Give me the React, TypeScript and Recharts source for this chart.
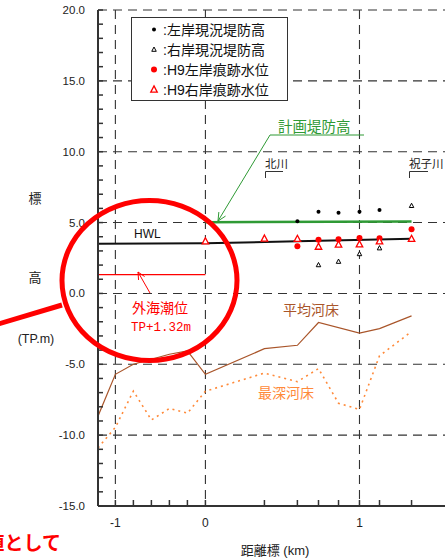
import React from 'react';
import { LineChart, Line, XAxis, YAxis, CartesianGrid, ReferenceLine } from 'recharts';

// distance marks left of 0 are drawn closer together than on the river side
const LEFT_SCALE = 90 / 154;
const toU = (km: number) => (km < 0 ? km * LEFT_SCALE : km);

const X_MIN_KM = -1.193;
const X_MAX_KM = 1.62;

const xGridKm = [-1, 0, 1];
const xTickKm = [-1, -0.8, -0.6, -0.4, -0.2, 0, 0.383, 0.597, 0.734, 0.864, 1, 1.13, 1.338];
const xTickLabels = ['-1', '', '', '', '', '0', '', '', '', '', '1', '', ''];
const yGrid = [-10, -5, 0, 5, 10, 15, 20];
const yTicks = Array.from({ length: 36 }, (_, i) => i - 15);

// HWL
const hwlKm = [-1.193, 0, 0.597, 1.338];
const hwl = [3.5, 3.54, 3.68, 3.85];

// 計画堤防高
const planKm = [0, 1.338];
const planLevee = [5.03, 5.07];

// 左岸 / 右岸 現況堤防高
const leftLeveeKm = [0.597, 0.734, 0.864, 1.0, 1.13];
const leftLevee = [5.1, 5.76, 5.69, 5.76, 5.88];
const rightLeveeKm = [0.734, 0.864, 1.0, 1.13, 1.338];
const rightLevee = [2.01, 2.25, 2.79, 3.2, 6.19];

// H9 痕跡水位
const h9LeftKm = [0.597, 0.734, 0.864, 1.0, 1.13, 1.338];
const h9Left = [3.33, 3.78, 3.82, 3.92, 3.89, 4.53];
const h9RightKm = [0, 0.383, 0.597, 0.734, 0.864, 1.0, 1.13, 1.338];
const h9Right = [3.68, 3.87, 3.85, 3.3, 3.45, 3.47, 3.68, 3.85];

// 平均河床 / 最深河床
const avgBedKm = [-1.193, -1.0, -0.8, -0.4, -0.2, 0, 0.383, 0.597, 0.734, 1.0, 1.13, 1.338];
const avgBed = [-8.66, -5.71, -5.0, -4.29, -4.06, -5.71, -3.9, -3.66, -2.05, -2.8, -2.48, -1.58];
const deepBedKm = [-1.193, -1.0, -0.8, -0.6, -0.4, -0.2, 0, 0.383, 0.597, 0.734, 0.864, 1.0, 1.13, 1.338];
const deepBed = [-10.9, -9.45, -6.89, -8.93, -8.12, -8.45, -6.9, -5.62, -6.23, -5.3, -7.75, -8.19, -4.4, -2.69];

const tideLevel = 1.32;

const pts = (km: number[], vals: number[]) => km.map((k, i) => ({ x: toU(k), y: vals[i] }));

const FONT = "'Liberation Sans', Arial, 'Noto Sans CJK JP', sans-serif";
const RED = '#ff0000';
const GREEN = '#2f9a35';
const BROWN = '#a9552a';
const ORANGE = '#ff8a3a';

const YTick = (props: any) => {
    const { x, y, payload } = props;
    const v = payload.value;
    return (
        <g>
            <line x1={x + 13} x2={x + 18} y1={y} y2={y} stroke="#333" strokeWidth={1.5} />
            {v % 5 === 0 ? (
                <text x={x} y={y + 4} textAnchor="end" fontSize={11.5} fill="#222" fontFamily={FONT}>
                    {v.toFixed(1)}
                </text>
            ) : null}
        </g>
    );
};

const XTick = (props: any) => {
    const { x, y, payload } = props;
    const i = xTickKm.findIndex((k) => Math.abs(toU(k) - payload.value) < 1e-6);
    const label = i >= 0 ? xTickLabels[i] : '';
    return (
        <g>
            <line x1={x} x2={x} y1={y - 12} y2={y - 18} stroke="#333" strokeWidth={1.5} />
            {label ? (
                <text x={x} y={y + 9} textAnchor="middle" fontSize={12} fill="#222" fontFamily={FONT}>
                    {label}
                </text>
            ) : null}
        </g>
    );
};

const dotShape = (r: number, color: string) => (p: any) => (
    <circle key={`c${p.index}`} cx={p.cx} cy={p.cy} r={r} fill={color} />
);

const triPath = (cx: number, cy: number, s: number) =>
    `M${cx},${cy - s * 0.55} L${cx + s / 2},${cy + s * 0.4} L${cx - s / 2},${cy + s * 0.4} Z`;

const triShape = (s: number, color: string, w: number) => (p: any) => (
    <path key={`t${p.index}`} d={triPath(p.cx, p.cy, s)} fill="#fff" stroke={color} strokeWidth={w} />
);

const arrowHead = (x1: number, y1: number, x2: number, y2: number, len: number) => {
    const a = Math.atan2(y2 - y1, x2 - x1);
    const d = 0.45;
    const ax = x2 - len * Math.cos(a - d);
    const ay = y2 - len * Math.sin(a - d);
    const bx = x2 - len * Math.cos(a + d);
    const by = y2 - len * Math.sin(a + d);
    return `M${ax},${ay} L${x2},${y2} L${bx},${by}`;
};

const legendRows = [
    { label: ':左岸現況堤防高', kind: 'dot', color: '#000', size: 2 },
    { label: ':右岸現況堤防高', kind: 'tri', color: '#000', size: 4.5 },
    { label: ':H9左岸痕跡水位', kind: 'dot', color: RED, size: 3 },
    { label: ':H9右岸痕跡水位', kind: 'tri', color: RED, size: 6.5 },
];

const Overlay = () => (
    <svg width={445} height={560} style={{ position: 'absolute', left: 0, top: 0, pointerEvents: 'none' }}>
        {/* legend */}
        <rect x={131.5} y={17.5} width={156} height={83} fill="#fff" stroke="#333" strokeWidth={1} />
        {legendRows.map((r, i) => {
            const cy = 29.5 + i * 20;
            return (
                <g key={r.label}>
                    {r.kind === 'dot' ? (
                        <circle cx={154} cy={cy} r={r.size} fill={r.color} />
                    ) : (
                        <path d={triPath(154, cy, r.size)} fill="#fff" stroke={r.color} strokeWidth={r.color === RED ? 1.3 : 1} />
                    )}
                    <text x={163} y={cy + 5} fontSize={14} fill="#111" fontFamily={FONT}>
                        {r.label}
                    </text>
                </g>
            );
        })}

        {/* axis titles */}
        <text x={35} y={203} fontSize={13} textAnchor="middle" fill="#222" fontFamily={FONT}>標</text>
        <text x={35} y={282} fontSize={13} textAnchor="middle" fill="#222" fontFamily={FONT}>高</text>
        <text x={36} y={343} fontSize={12.5} textAnchor="middle" fill="#222" fontFamily={FONT}>(TP.m)</text>
        <text x={275} y={555} fontSize={13} textAnchor="middle" fill="#222" fontFamily={FONT}>距離標 (km)</text>

        {/* annotations */}
        <text x={134} y={238} fontSize={12} fill="#111" fontFamily={FONT}>HWL</text>

        <text x={278} y={132} fontSize={14.5} fill={GREEN} fontFamily={FONT}>計画堤防高</text>
        <line x1={270} y1={135} x2={364} y2={135} stroke={GREEN} strokeWidth={1.2} />
        <line x1={270} y1={135} x2={218} y2={221} stroke={GREEN} strokeWidth={1} />
        <path d={arrowHead(270, 135, 218, 221, 9)} fill="none" stroke={GREEN} strokeWidth={1} />

        <text x={265} y={168} fontSize={11.5} fill="#222" fontFamily={FONT}>北川</text>
        <path d="M265.5,178 L265.5,171.5 L283,171.5" fill="none" stroke="#333" strokeWidth={1} />
        <text x={409} y={168} fontSize={11.5} fill="#222" fontFamily={FONT}>祝子川</text>
        <path d="M409.5,178 L409.5,171.5 L428,171.5" fill="none" stroke="#333" strokeWidth={1} />

        <text x={283} y={315} fontSize={14} fill={BROWN} fontFamily={FONT}>平均河床</text>
        <text x={258} y={398} fontSize={14} fill={ORANGE} fontFamily={FONT}>最深河床</text>

        <line x1={150} y1={293} x2={138} y2={272} stroke={RED} strokeWidth={1} />
        <path d={arrowHead(150, 293, 138, 272, 8)} fill="none" stroke={RED} strokeWidth={1} />
        <text x={132} y={313} fontSize={14} fill={RED} fontFamily={FONT}>外海潮位</text>
        <text x={131} y={330.5} fontSize={12.5} fill={RED} fontFamily="'Liberation Mono', 'DejaVu Sans Mono', monospace">
            TP+1.32m
        </text>

        {/* slide highlight */}
        <ellipse cx={149.5} cy={280.5} rx={87.5} ry={80} fill="none" stroke={RED} strokeWidth={5} />
        <line x1={-5} y1={325} x2={62} y2={305} stroke={RED} strokeWidth={5} />
        <text x={61} y={550} fontSize={19} fontWeight="bold" textAnchor="end" fill={RED} fontFamily={FONT}>
            値として
        </text>
    </svg>
);

const App: React.FC = () => {
    return (
        <div
            style={{
                position: 'absolute',
                left: 0,
                top: 0,
                width: 445,
                height: 560,
                overflow: 'hidden',
                background: '#fff',
            }}
        >
            <LineChart width={455} height={560} margin={{ top: 10, right: 0, left: 0, bottom: 0 }}>
                <CartesianGrid
                    horizontalValues={yGrid}
                    verticalValues={xGridKm.map(toU)}
                    stroke="#333"
                    strokeWidth={1.1}
                    strokeDasharray="9 6"
                />
                <XAxis
                    type="number"
                    dataKey="x"
                    domain={[toU(X_MIN_KM), toU(X_MAX_KM)]}
                    ticks={xTickKm.map(toU)}
                    interval={0}
                    allowDataOverflow
                    height={54}
                    tickSize={6}
                    tickMargin={6}
                    tickLine={false}
                    tick={<XTick />}
                    axisLine={{ stroke: '#333', strokeWidth: 2 }}
                />
                <YAxis
                    type="number"
                    dataKey="y"
                    domain={[-15, 20]}
                    ticks={yTicks}
                    interval={0}
                    allowDataOverflow
                    width={98}
                    tickSize={6}
                    tickMargin={7}
                    tickLine={false}
                    tick={<YTick />}
                    axisLine={{ stroke: '#333', strokeWidth: 2 }}
                />
                <ReferenceLine
                    segment={[{ x: toU(X_MIN_KM), y: tideLevel }, { x: 0, y: tideLevel }]}
                    stroke={RED}
                    strokeWidth={1.2}
                />
                <Line data={pts(avgBedKm, avgBed)} dataKey="y" type="linear" stroke={BROWN} strokeWidth={1.2} dot={false} isAnimationActive={false} />
                <Line data={pts(deepBedKm, deepBed)} dataKey="y" type="linear" stroke={ORANGE} strokeWidth={1.6} strokeDasharray="2 4" dot={false} isAnimationActive={false} />
                <Line data={pts(hwlKm, hwl)} dataKey="y" type="linear" stroke="#111" strokeWidth={2} dot={false} isAnimationActive={false} />
                <Line data={pts(planKm, planLevee)} dataKey="y" type="linear" stroke={GREEN} strokeWidth={2.5} dot={false} isAnimationActive={false} />
                <Line data={pts(leftLeveeKm, leftLevee)} dataKey="y" stroke="none" dot={dotShape(2, '#000')} activeDot={false} isAnimationActive={false} />
                <Line data={pts(rightLeveeKm, rightLevee)} dataKey="y" stroke="none" dot={triShape(4.5, '#000', 1)} activeDot={false} isAnimationActive={false} />
                <Line data={pts(h9LeftKm, h9Left)} dataKey="y" stroke="none" dot={dotShape(3, RED)} activeDot={false} isAnimationActive={false} />
                <Line data={pts(h9RightKm, h9Right)} dataKey="y" stroke="none" dot={triShape(6.5, RED, 1.3)} activeDot={false} isAnimationActive={false} />
            </LineChart>
            <Overlay />
        </div>
    );
};

export default App;
